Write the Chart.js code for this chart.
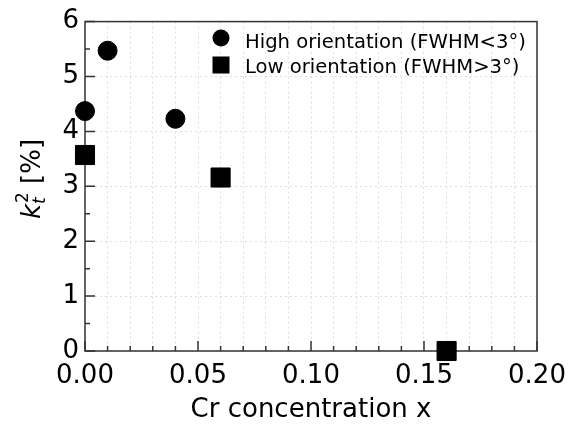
<!DOCTYPE html>
<html>
<head>
<meta charset="utf-8">
<script src="https://cdn.jsdelivr.net/npm/chart.js@4"></script>
<style>
  html, body { margin: 0; padding: 0; background: #fff; }
</style>
</head>
<body>
<canvas id="kChart" width="577" height="426"></canvas>
<script>
// Data
const highX = [0.0, 0.01, 0.04];
const highY = [4.37, 5.47, 4.23];
const lowX = [0.0, 0.06, 0.16];
const lowY = [3.57, 3.16, 0.0];
const xLabels = ["0.00", "0.05", "0.10", "0.15", "0.20"];
const yLabels = ["0", "1", "2", "3", "4", "5", "6"];
const seriesNames = ["High orientation (FWHM<3°)", "Low orientation (FWHM>3°)"];

const FONT = "'DejaVu Sans', sans-serif";
const GRID = "#dedede";
const AXIS = "#333";

function toPoints(xs, ys) {
    return xs.map((x, i) => ({ x: x, y: ys[i] }));
}

// frame, inward ticks, y title and legend
const decorPlugin = {
    id: "decor",
    beforeDatasetsDraw(chart) {
        const { ctx, chartArea: a, scales } = chart;
        ctx.save();
        ctx.strokeStyle = AXIS;
        ctx.lineWidth = 1.5;
        ctx.strokeRect(a.left, a.top, a.right - a.left, a.bottom - a.top);
        ctx.beginPath();
        // x ticks every 0.01, long at labelled ones
        for (let i = 0; i <= 20; i++) {
            const px = scales.x.getPixelForValue(i / 100);
            const len = i % 5 === 0 ? 10 : 5;
            ctx.moveTo(px, a.bottom);
            ctx.lineTo(px, a.bottom - len);
        }
        // y ticks every 0.5
        for (let i = 0; i <= 12; i++) {
            const py = scales.y.getPixelForValue(i / 2);
            const len = i % 2 === 0 ? 10 : 5;
            ctx.moveTo(a.left, py);
            ctx.lineTo(a.left + len, py);
        }
        ctx.stroke();
        ctx.restore();
    },
    afterDraw(chart) {
        const { ctx } = chart;
        ctx.save();
        // y axis title: k_t^2 [%]
        const big = 26, small = 17;
        ctx.font = "italic " + big + "px " + FONT;
        const wk = ctx.measureText("k").width;
        ctx.font = "italic " + small + "px " + FONT;
        const wt = ctx.measureText("t").width;
        ctx.font = small + "px " + FONT;
        const w2 = ctx.measureText("2").width;
        ctx.font = big + "px " + FONT;
        const wr = ctx.measureText(" [%]").width;
        const total = wk + Math.max(wt, w2) + 1 + wr;
        ctx.translate(40, 179);
        ctx.rotate(-Math.PI / 2);
        ctx.fillStyle = "#000";
        ctx.textBaseline = "alphabetic";
        let x0 = -total / 2;
        ctx.font = "italic " + big + "px " + FONT;
        ctx.fillText("k", x0, 0);
        x0 += wk;
        ctx.font = "italic " + small + "px " + FONT;
        ctx.fillText("t", x0, 5);
        ctx.font = small + "px " + FONT;
        ctx.fillText("2", x0 + 1, -12);
        x0 += Math.max(wt, w2) + 1;
        ctx.font = big + "px " + FONT;
        ctx.fillText(" [%]", x0, 0);
        ctx.restore();

        // legend
        ctx.save();
        ctx.fillStyle = "#000";
        ctx.beginPath();
        ctx.arc(221, 38, 8.5, 0, Math.PI * 2);
        ctx.fill();
        ctx.fillRect(212.5, 56.5, 17, 17);
        ctx.font = "19.6px " + FONT;
        ctx.textBaseline = "alphabetic";
        ctx.fillText(chart.data.datasets[0].label, 245, 48);
        ctx.fillText(chart.data.datasets[1].label, 245, 73);
        ctx.restore();
    }
};

const ctx = document.getElementById("kChart").getContext("2d");
new Chart(ctx, {
    type: "scatter",
    data: {
        datasets: [
            {
                label: seriesNames[0],
                data: toPoints(highX, highY),
                pointStyle: "circle",
                pointRadius: 9.5,
                pointHoverRadius: 9.5,
                backgroundColor: "#000",
                borderColor: "#000",
                borderWidth: 1,
                clip: false
            },
            {
                label: seriesNames[1],
                data: toPoints(lowX, lowY),
                pointStyle: "rect",
                pointRadius: 13.5,
                pointHoverRadius: 13.5,
                backgroundColor: "#000",
                borderColor: "#000",
                borderWidth: 1,
                clip: false
            }
        ]
    },
    options: {
        responsive: false,
        animation: false,
        layout: { padding: { left: 0, right: 40, top: 17, bottom: 0 } },
        plugins: {
            legend: { display: false },
            tooltip: { enabled: false }
        },
        scales: {
            x: {
                type: "linear",
                min: 0,
                max: 0.2,
                afterFit(scale) { scale.height = 75; },
                ticks: {
                    stepSize: 0.01,
                    autoSkip: false,
                    maxRotation: 0,
                    padding: 10,
                    color: "#000",
                    font: { family: FONT, size: 26 },
                    callback: (v) => {
                        const i = Math.round(v * 100);
                        return i % 5 === 0 ? xLabels[i / 5] : "";
                    }
                },
                grid: { color: GRID, lineWidth: 1, drawTicks: false },
                border: { display: false, dash: [2, 3] },
                title: {
                    display: true,
                    text: "Cr concentration x",
                    color: "#000",
                    font: { family: FONT, size: 26 },
                    padding: { top: 0, bottom: 0 }
                }
            },
            y: {
                type: "linear",
                min: 0,
                max: 6,
                afterFit(scale) { scale.width = 85; },
                ticks: {
                    stepSize: 0.5,
                    autoSkip: false,
                    padding: 6,
                    color: "#000",
                    font: { family: FONT, size: 26 },
                    callback: (v) => (v % 1 === 0 ? yLabels[v] : "")
                },
                grid: {
                    color: (c) => (c.tick && c.tick.value % 1 === 0 ? GRID : "rgba(0,0,0,0)"),
                    lineWidth: 1,
                    drawTicks: false
                },
                border: { display: false, dash: [2, 3] }
            }
        }
    },
    plugins: [decorPlugin]
});
</script>
</body>
</html>
